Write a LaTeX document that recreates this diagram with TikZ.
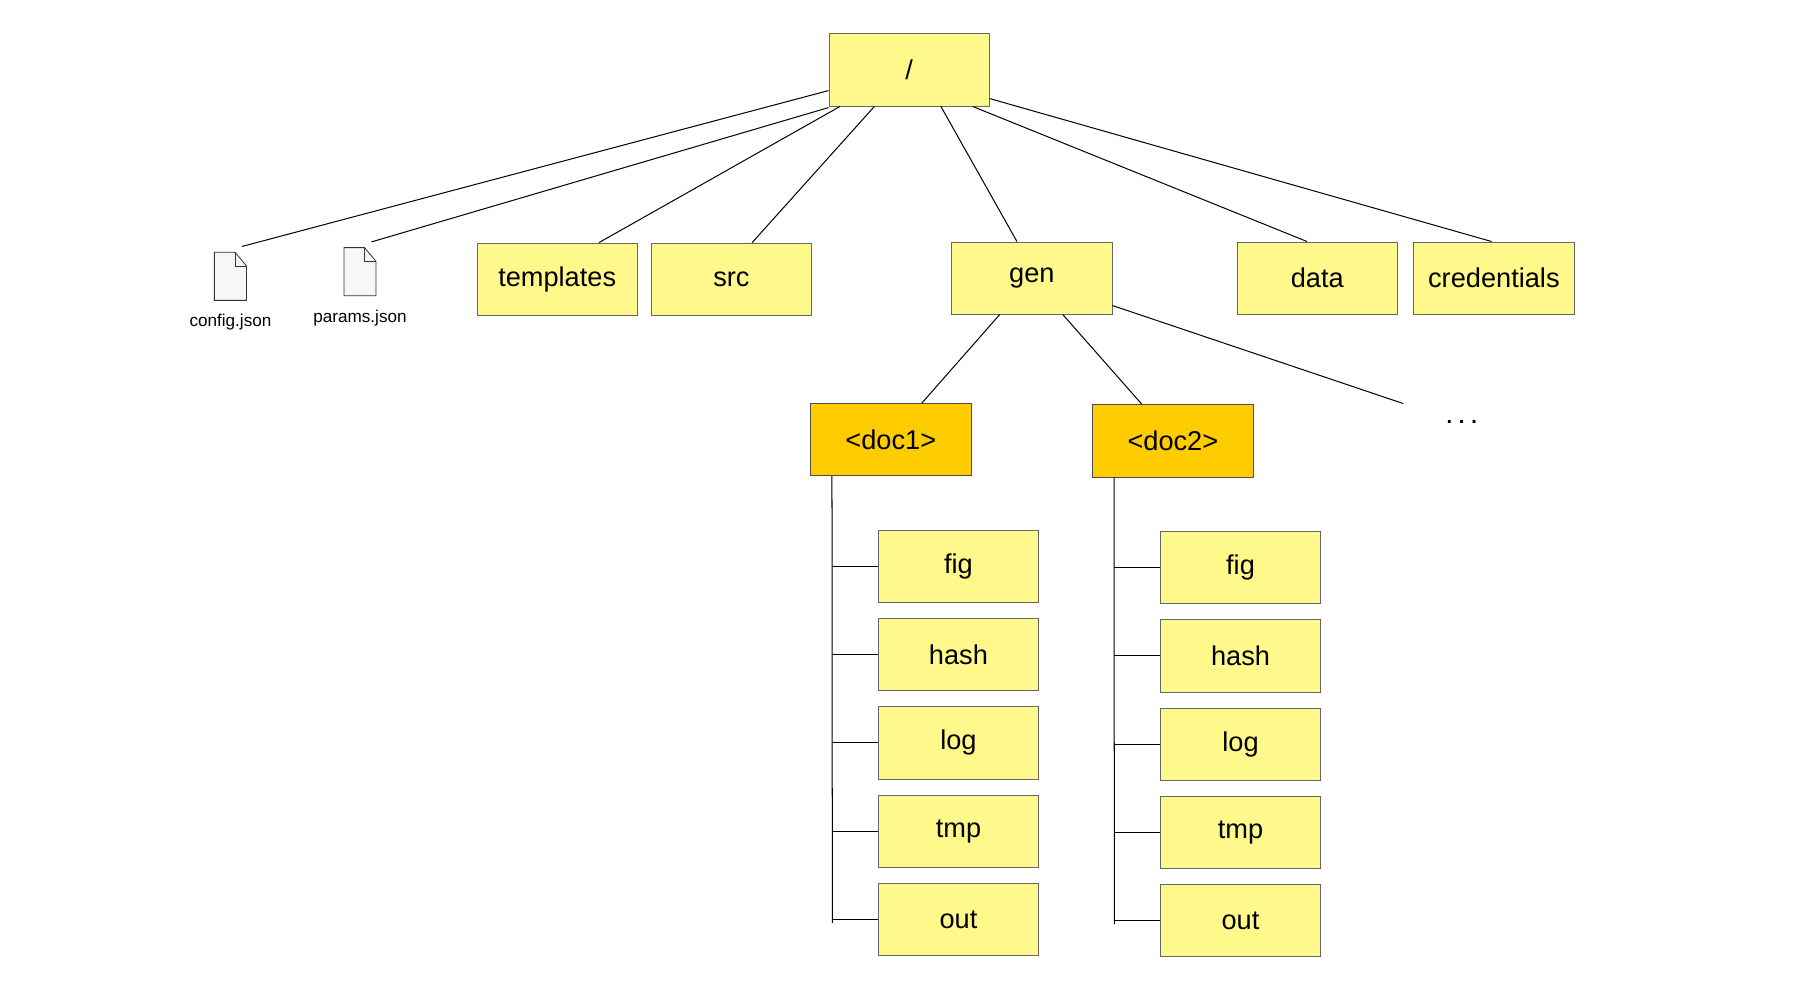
\documentclass[tikz,border=0pt]{standalone}
\usepackage{fontspec}
\setmainfont{Liberation Sans}
\usetikzlibrary{calc}

\begin{document}
\begin{tikzpicture}[x=0.02cm,y=-0.02cm,
  dir/.style={draw=gray!80!black,fill=yellow!45,minimum width=2.8cm,minimum height=1.26cm,
    inner sep=0pt,font=\fontsize{13.5}{16}\selectfont},
  docdir/.style={dir,fill=orange!30!yellow!95!red,draw=gray!60!black,fill={rgb,255:red,255;green,204;blue,0}},
  link/.style={draw=black,line width=0.5pt},
  flabel/.style={font=\fontsize{8.5}{10}\selectfont}]

\useasboundingbox (0,0) rectangle (1570,872);

% Top level
\node[dir] (root) at (793,61) {/};
\node[dir] (templates) at (486,243.5) {templates};
\node[dir] (src) at (638,243.5) {src};
\node[dir] (gen) at (900,242.5) {gen};
\node[dir] (data) at (1149,242.5) {data};
\node[dir] (credentials) at (1303,242.5) {credentials};

% Files
\foreach \name/\fx/\fy/\txt in {config/201/241/config.json, params/314/237/params.json}{
  \filldraw[draw=gray!40!black,fill=gray!6]
    (\fx-14,\fy-21) -- (\fx+4,\fy-21) -- (\fx+14,\fy-9) -- (\fx+14,\fy+21) -- (\fx-14,\fy+21) -- cycle;
  \draw[draw=gray!40!black] (\fx+4,\fy-21) -- (\fx+4,\fy-9) -- (\fx+14,\fy-9);
  \node[flabel] (\name) at (\fx,\fy+40) {\txt};
  \coordinate (\name top) at (\fx+10,\fy-26);
}

% Documents
\node[docdir] (doc1) at (777,383.5) {<doc1>};
\node[docdir] (doc2) at (1023,384.5) {<doc2>};
\node (more) at (1275,368) {\textbf{.\,\,.\,\,.}};
\coordinate (morelink) at (1224,352);

% Links from root
\draw[link] (configtop) -- ($(root.west)+(0,18)$);
\draw[link] (paramstop) -- ($(root.south west)+(0,1)$);
\draw[link] (templates.north east)++(-34,0) -- ($(root.south west)+(10,0)$);
\draw[link] (src.north)++(18,0) -- ($(root.south west)+(40,0)$);
\draw[link] (gen.north)++(-13,0) -- ($(root.south west)+(98,0)$);
\draw[link] (data.north)++(-9,0) -- ($(root.south east)+(-15,0)$);
\draw[link] (credentials.north)++(-2,0) -- ($(root.east)+(0,25)$);

% Links from gen
\draw[link] (doc1.north)++(27,0) -- ($(gen.south)+(-28,0)$);
\draw[link] (doc2.north)++(-27,0) -- ($(gen.south)+(27,0)$);
\draw[link] ($(gen.east)+(0,24)$) -- (morelink);

% Subfolders
\foreach \d/\dx/\dy in {doc1/836/494, doc2/1082/495}{
  \draw[link] ($(\d.south west)+(19,0)$) -- (\dx-110,\dy+311);
  \foreach \sub [count=\i from 0] in {fig,hash,log,tmp,out}{
    \node[dir] (\d\sub) at (\dx,\dy+77*\i) {\sub};
    \draw[link] (\d\sub.west) -- (\dx-110,\dy+77*\i);
  }
}

\end{tikzpicture}
\end{document}
